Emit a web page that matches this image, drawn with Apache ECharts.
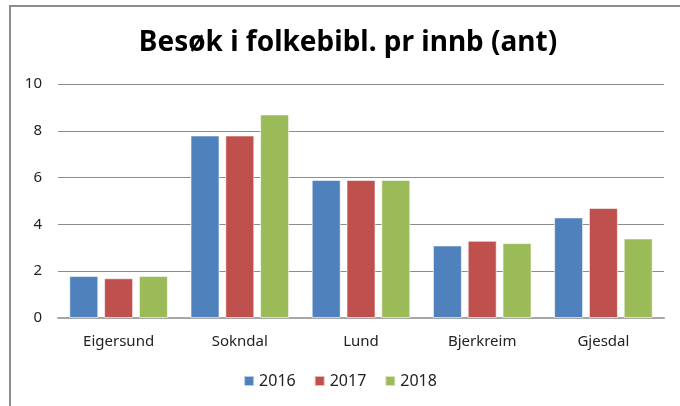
<!DOCTYPE html>
<html>
<head>
<meta charset="utf-8">
<script src="https://cdn.jsdelivr.net/npm/echarts@6/dist/echarts.min.js"></script>
<style>
    html, body { margin: 0; padding: 0; background: #fff; }
    #frame {
        position: absolute;
        left: 9px;
        top: 5px;
        width: 700px;
        height: 420px;
        border-left: 2px solid #8c8c8c;
        border-top: 2px solid #8c8c8c;
    }
    #chart { position: absolute; left: 0; top: 0; width: 680px; height: 406px; }
</style>
</head>
<body>
<div id="frame"></div>
<div id="chart"></div>
<script>
    var kommuner = ['Eigersund', 'Sokndal', 'Lund', 'Bjerkreim', 'Gjesdal'];
    var aar = ['2016', '2017', '2018'];
    var v2016 = [1.8, 7.8, 5.9, 3.1, 4.3];
    var v2017 = [1.7, 7.8, 5.9, 3.3, 4.7];
    var v2018 = [1.8, 8.7, 5.9, 3.2, 3.4];
    var yTicks = [0, 2, 4, 6, 8, 10];

    var farger = ['#4F81BD', '#C0504D', '#9BBB59'];
    var font = 'Noto Sans';

    function serie(navn, data, i) {
        return {
            name: navn,
            type: 'bar',
            data: data,
            barWidth: 29,
            barGap: '20%',
            itemStyle: {
                color: farger[i],
                borderColor: 'rgba(255,255,255,0.6)',
                borderWidth: 1
            }
        };
    }

    var chart = echarts.init(document.getElementById('chart'));
    var option = {
        animation: false,
        title: {
            text: 'Besøk i folkebibl. pr innb (ant)',
            left: 343,
            textAlign: 'center',
            top: 24,
            textStyle: { fontFamily: font, fontSize: 28, fontWeight: 'bold', color: '#000' }
        },
        legend: {
            data: aar,
            bottom: 12,
            left: 'center',
            icon: 'rect',
            itemWidth: 10,
            itemHeight: 10,
            itemGap: 18,
            textStyle: { fontFamily: font, fontSize: 16, color: '#222' }
        },
        grid: { left: 58, right: 16, top: 84, bottom: 88 },
        xAxis: {
            type: 'category',
            data: kommuner,
            axisTick: { show: false },
            axisLine: { lineStyle: { color: '#a6a6a6', width: 2 } },
            axisLabel: { margin: 16, fontFamily: font, fontSize: 15, color: '#222' }
        },
        yAxis: {
            type: 'value',
            min: yTicks[0],
            max: yTicks[yTicks.length - 1],
            interval: 2,
            axisLine: { show: false },
            axisTick: { show: false },
            axisLabel: { margin: 16, fontFamily: font, fontSize: 15, color: '#222' },
            splitLine: { lineStyle: { color: '#8c8c8c', width: 1 } }
        },
        series: [
            serie(aar[0], v2016, 0),
            serie(aar[1], v2017, 1),
            serie(aar[2], v2018, 2)
        ]
    };
    chart.setOption(option);
</script>
</body>
</html>
